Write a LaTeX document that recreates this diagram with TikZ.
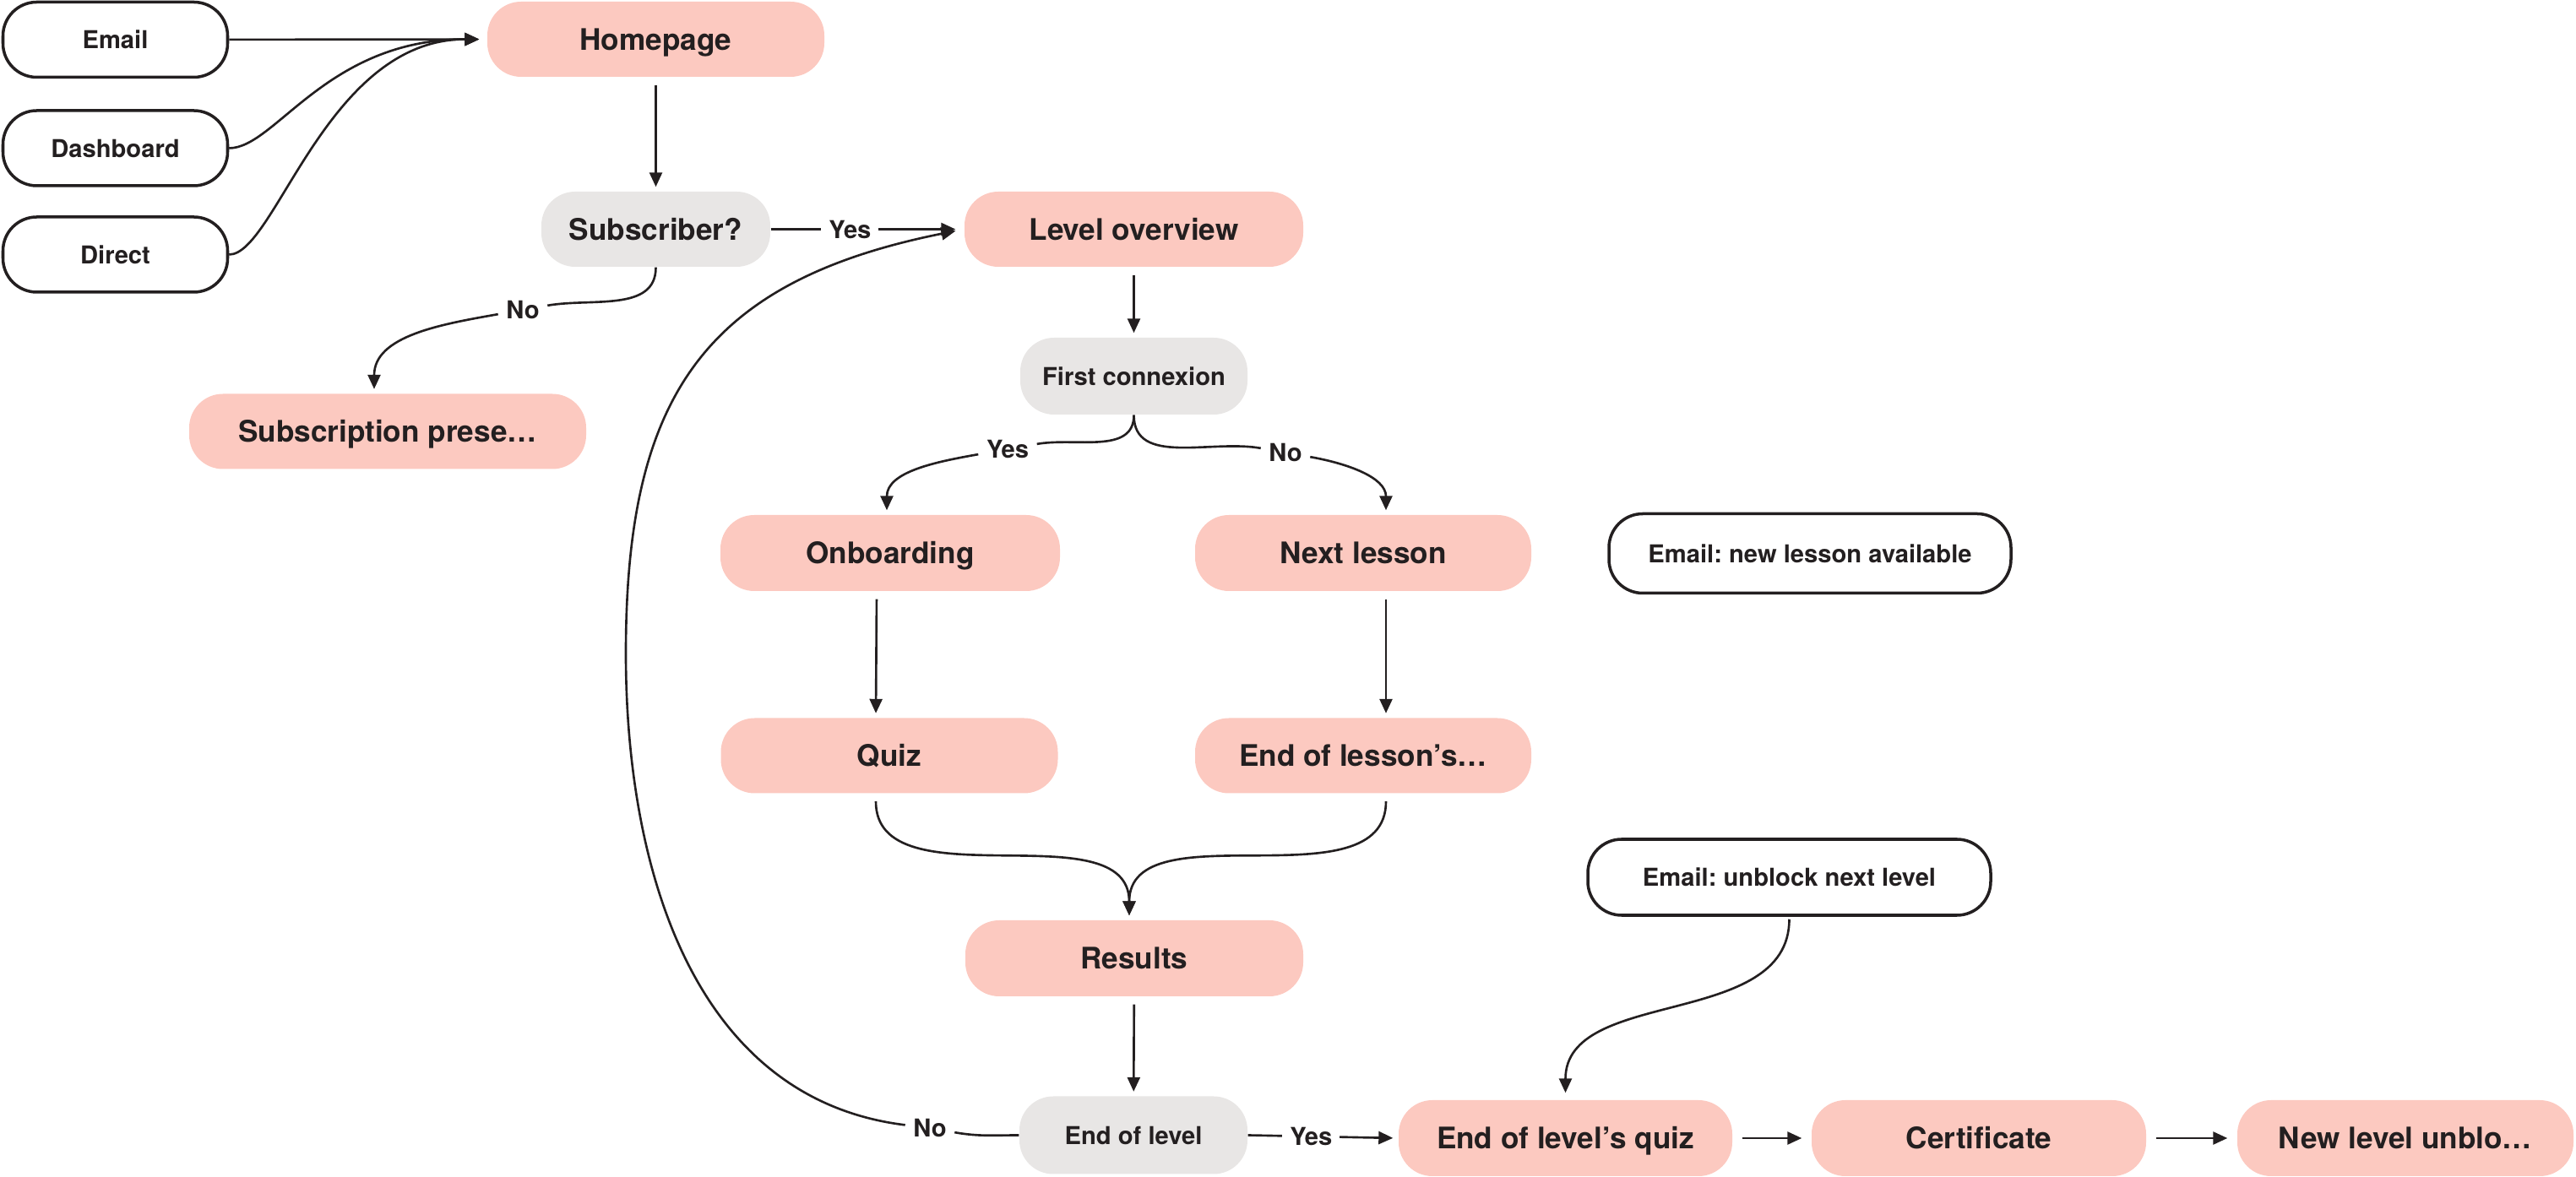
\documentclass[tikz,border=0pt]{standalone}
\usepackage{fontspec}
\setmainfont{TeX Gyre Heros}
\usetikzlibrary{arrows.meta}
\definecolor{pinkfill}{HTML}{FCC9C0}
\definecolor{greyfill}{HTML}{E8E6E5}
\definecolor{ink}{HTML}{231F20}
\frenchspacing

\begin{document}
\begin{tikzpicture}[
    big/.style={font=\bfseries\fontsize{10}{12}\selectfont, text height=7.2pt},
    small/.style={font=\bfseries\fontsize{8.3}{10}\selectfont, text height=6pt},
    box/.style={rounded corners=0.4cm, minimum height=0.89cm, inner sep=0pt, text=ink, text depth=0pt},
    page/.style={box, big, fill=pinkfill},
    check/.style={box, small, fill=greyfill},
    source/.style={box, small, draw=ink, line width=1pt, fill=white},
    conn/.style={draw=ink, line width=0.75pt, -{Triangle[length=0.17cm, width=0.15cm]}, shorten <=0.09cm, shorten >=0.05cm},
    link/.style={draw=ink, line width=0.75pt},
    lbl/.style={small, fill=white, text=ink, inner sep=0.09cm, text depth=0pt},
]
    \useasboundingbox (0,0) rectangle (30.5,13.94);

    % Entry points
    \node[source, minimum width=2.66cm] (email) at (1.365, 13.47) {Email};
    \node[source, minimum width=2.66cm] (dash) at (1.365, 12.185) {Dashboard};
    \node[source, minimum width=2.66cm] (direct) at (1.365, 10.925) {Direct};

    % Main pages
    \node[page, minimum width=3.99cm] (home) at (7.765, 13.475) {Homepage};
    \node[check, big, minimum width=2.71cm] (subq) at (7.765, 11.225) {Subscriber?};
    \node[page, minimum width=4.01cm] (overview) at (13.425, 11.225) {Level overview};
    \node[check, minimum width=2.69cm, minimum height=0.91cm] (firstq) at (13.425, 9.485) {First connexion};
    \node[page, minimum width=4.70cm] (subs) at (4.59, 8.83) {Subscription prese…};

    % Lessons
    \node[page, minimum width=4.02cm, minimum height=0.90cm] (onboard) at (10.54, 7.39) {Onboarding};
    \node[page, minimum width=3.98cm, minimum height=0.90cm] (nextl) at (16.14, 7.39) {Next lesson};
    \node[source, minimum width=4.76cm, minimum height=0.94cm] (mailnew) at (21.43, 7.385) {Email: new lesson available};
    \node[page, minimum width=3.99cm] (quiz) at (10.53, 4.99) {Quiz};
    \node[page, minimum width=3.98cm] (endl) at (16.14, 4.99) {End of lesson’s…};
    \node[page, minimum width=4.00cm, minimum height=0.90cm] (results) at (13.43, 2.59) {Results};

    % End of level
    \node[source, minimum width=4.77cm, minimum height=0.90cm] (mailnext) at (21.185, 3.55) {Email: unblock next level};
    \node[check, minimum width=2.70cm, minimum height=0.92cm] (endlvl) at (13.42, 0.495) {End of level};
    \node[page, minimum width=3.95cm, minimum height=0.90cm] (lvlquiz) at (18.535, 0.46) {End of level’s quiz};
    \node[page, minimum width=3.96cm, minimum height=0.90cm] (cert) at (23.43, 0.46) {Certificate};
    \node[page, minimum width=3.98cm, minimum height=0.90cm] (newlvl) at (28.48, 0.46) {New level unblo…};

    % Entry points into the homepage
    \draw[conn, shorten <=0pt, shorten >=0.09cm] (email) -- (home);
    \draw[conn, shorten <=0pt, shorten >=0.09cm] (dash.east) .. controls +(0.55,0) and +(-1.9,0) .. (home.west);
    \draw[conn, shorten <=0pt, shorten >=0.09cm] (direct.east) .. controls +(0.55,0) and +(-1.9,0) .. (home.west);

    % Subscriber?
    \draw[conn] (home) -- (subq);
    \draw[conn, shorten <=0pt, shorten >=0.1cm] (subq) -- node[lbl, pos=0.41] {Yes} (overview);
    \node[lbl] (subno) at (6.19, 10.27) {No};
    \draw[link] (subq.south) to[out=-90, in=10] (subno);
    \draw[conn, shorten <=0pt] (subno) to[out=190, in=90] ([xshift=-0.16cm]subs.north);

    % First connexion
    \draw[conn] (overview) -- (firstq);
    \node[lbl] (fyes) at (11.93, 8.62) {Yes};
    \node[lbl] (fno) at (15.22, 8.58) {No};
    \draw[link] (firstq.south) to[out=-90, in=10] (fyes);
    \draw[conn, shorten <=0pt] (fyes) to[out=190, in=90] ([xshift=-0.04cm]onboard.north);
    \draw[link] (firstq.south) to[out=-90, in=170] (fno);
    \draw[conn, shorten <=0pt] (fno) to[out=-10, in=90] ([xshift=0.27cm]nextl.north);

    % Lessons to results
    \draw[conn] ([xshift=-0.16cm]onboard.south) -- ([xshift=-0.16cm]quiz.north);
    \draw[conn] ([xshift=0.27cm]nextl.south) -- ([xshift=0.27cm]endl.north);
    \draw[conn] ([xshift=-0.16cm]quiz.south) to[out=-90, in=90] ([xshift=-0.06cm]results.north);
    \draw[conn] ([xshift=0.27cm]endl.south) to[out=-90, in=90] ([xshift=-0.06cm]results.north);
    \draw[conn] (results) -- (endlvl);

    % End of level
    \draw[conn, shorten <=0pt, shorten >=0.06cm] (endlvl.east) -- node[lbl, pos=0.42] {Yes} (lvlquiz.west);
    \node[lbl] (lvlno) at (11.01, 0.58) {No};
    \draw[link] (endlvl.west) to[out=180, in=-10] (lvlno);
    \coordinate (loopw) at (7.41, 6.2);
    \draw[conn, shorten <=0pt, shorten >=0.1cm] (lvlno) to[out=173, in=-90] (loopw)
        .. controls +(0,3.0) and (8.3,10.6) .. (overview.west);
    \draw[conn, shorten <=0.03cm, shorten >=0.08cm] (mailnext.south) to[out=-90, in=90] (lvlquiz.north);
    \foreach \a/\b in {lvlquiz/cert, cert/newlvl}
        \draw[conn, shorten <=0.11cm, shorten >=0.11cm] (\a) -- (\b);
\end{tikzpicture}
\end{document}
